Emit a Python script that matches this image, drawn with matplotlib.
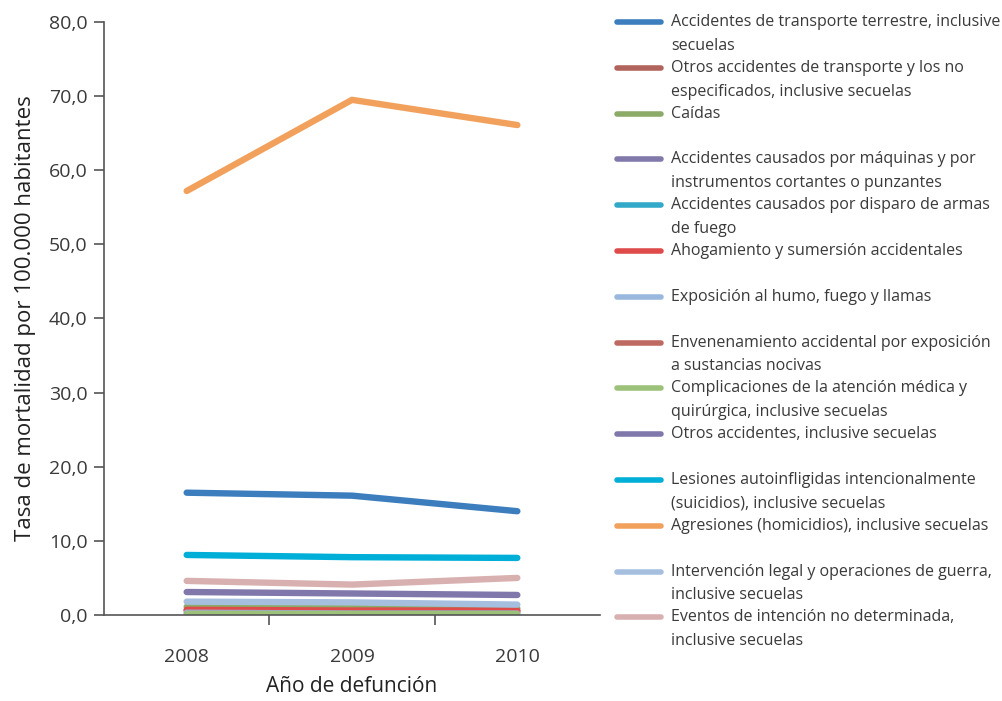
import numpy as np
import matplotlib
matplotlib.use("Agg")
import matplotlib.pyplot as plt
from matplotlib.lines import Line2D
from matplotlib.ticker import FuncFormatter

plt.rcParams['font.family'] = ['Open Sans', 'DejaVu Sans']

years = ["2008", "2009", "2010"]

labels = [
    "Accidentes de transporte terrestre, inclusive\nsecuelas",
    "Otros accidentes de transporte y los no\nespecificados, inclusive secuelas",
    "Caídas",
    "Accidentes causados por máquinas y por\ninstrumentos cortantes o punzantes",
    "Accidentes causados por disparo de armas\nde fuego",
    "Ahogamiento y sumersión accidentales",
    "Exposición al humo, fuego y llamas",
    "Envenenamiento accidental por exposición\na sustancias nocivas",
    "Complicaciones de la atención médica y\nquirúrgica, inclusive secuelas",
    "Otros accidentes, inclusive secuelas",
    "Lesiones autoinfligidas intencionalmente\n(suicidios), inclusive secuelas",
    "Agresiones (homicidios), inclusive secuelas",
    "Intervención legal y operaciones de guerra,\ninclusive secuelas",
    "Eventos de intención no determinada,\ninclusive secuelas",
]

transporte = [16.5, 16.1, 14.0]
otros_transporte = [0.6, 0.5, 0.5]
caidas = [1.1, 1.1, 0.9]
maquinas = [0.3, 0.3, 0.3]
armas = [0.2, 0.2, 0.2]
ahogamiento = [0.7, 0.6, 0.6]
humo = [0.3, 0.2, 0.2]
envenenamiento = [0.2, 0.2, 0.2]
complicaciones = [0.1, 0.1, 0.1]
otros_accidentes = [3.1, 2.9, 2.7]
suicidios = [8.1, 7.8, 7.7]
homicidios = [57.2, 69.5, 66.1]
intervencion = [1.8, 1.7, 1.4]
no_determinada = [4.6, 4.1, 5.0]

series = [transporte, otros_transporte, caidas, maquinas, armas, ahogamiento, humo,
          envenenamiento, complicaciones, otros_accidentes, suicidios, homicidios,
          intervencion, no_determinada]

colors = ["#3b7dbd", "#b0645c", "#8dab68", "#8079a9", "#33a9c9", "#df4b4b", "#9ab8de",
          "#be6a62", "#9cc27a", "#8077ab", "#00afd8", "#f2a15c", "#a6bfde", "#d9b0b0"]

text_col = "#3a3a3a"

fig = plt.figure(figsize=(10.02, 7.01), dpi=100)
ax = fig.add_axes([0.1038, 0.1227, 0.495, 0.8459])

x = np.arange(len(years))
for vals, c in zip(series, colors):
    ax.plot(x, vals, color=c, lw=4.6, solid_capstyle='round')

ax.set_xlim(-0.5, 2.5)
ax.set_ylim(0, 80)
ax.set_yticks(np.arange(0, 81, 10))
ax.yaxis.set_major_formatter(FuncFormatter(lambda v, p: f"{v:.1f}".replace(".", ",")))
ax.set_xticks([0.5, 1.5])
ax.set_xticklabels([])
ax.set_xticks(x, minor=True)
ax.set_xticklabels(years, minor=True)
ax.tick_params(axis='x', which='minor', length=0, pad=24, labelsize=14, labelcolor=text_col)
ax.tick_params(axis='x', which='major', length=7, width=1.2, color="#555555")
ax.tick_params(axis='y', length=7, width=1.2, color="#555555", labelsize=14,
               labelcolor=text_col, pad=5)

for s in ["top", "right"]:
    ax.spines[s].set_visible(False)
for s in ["left", "bottom"]:
    ax.spines[s].set_color("#555555")
    ax.spines[s].set_linewidth(1.2)

ax.set_xlabel("Año de defunción", fontsize=15, color="#222222", labelpad=7)
ax.set_ylabel("Tasa de mortalidad por 100.000 habitantes", fontsize=16, color="#222222",
              labelpad=9)

# legend drawn by hand so each entry takes the same slot
y0 = 1 - 22 / 701
step = 45.8 / 701
for i, (lab, c) in enumerate(zip(labels, colors)):
    yy = y0 - i * step
    fig.add_artist(Line2D([617 / 1002, 661 / 1002], [yy, yy], color=c, lw=4,
                          solid_capstyle='round', transform=fig.transFigure))
    fig.text(671 / 1002, yy + 8 / 701, lab, fontsize=11.5, color=text_col,
             va='top', ha='left', linespacing=1.65)

fig.savefig("out.png", dpi=100)
